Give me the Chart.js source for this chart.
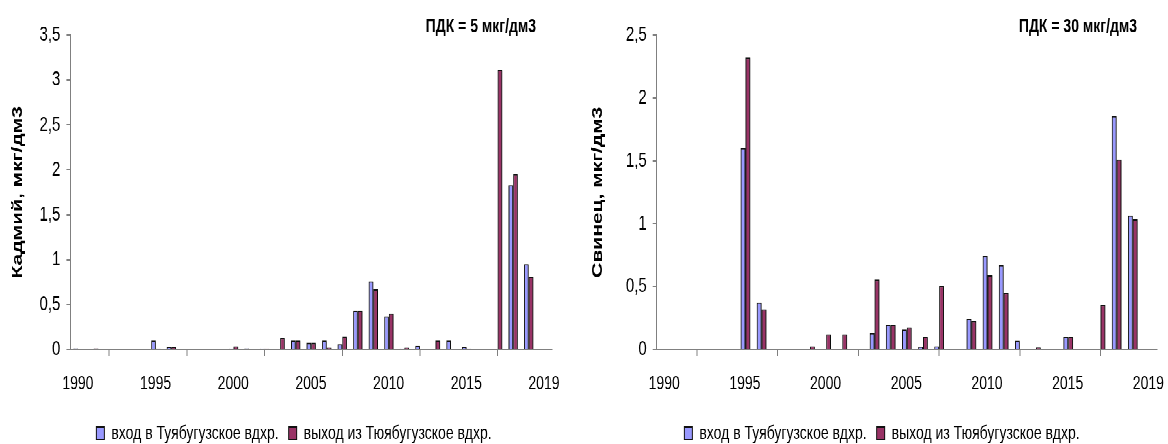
<!DOCTYPE html>
<html lang="ru">
<head>
<meta charset="utf-8">
<title>Кадмий и свинец</title>
<script src="https://cdn.jsdelivr.net/npm/chart.js@4.4.1/dist/chart.umd.min.js"></script>
<style>
    html, body { margin: 0; padding: 0; background: #fff; }
    #page { width: 1168px; height: 444px; overflow: hidden; }
    /* the source picture is stretched vertically, so both charts are drawn
       shorter and then scaled up the same way */
    #stretch {
        display: flex;
        width: 1168px;
        height: 317px;
        transform: scaleY(1.4006);
        transform-origin: 0 0;
    }
    #stretch canvas { display: block; }
</style>
</head>
<body>
<div id="page">
    <div id="stretch">
        <canvas id="cadmium-chart" width="584" height="317"></canvas>
        <canvas id="lead-chart" width="584" height="317"></canvas>
    </div>
</div>
<script>
// Sampling years
const years = [
    1990, 1991, 1992, 1993, 1994, 1995, 1996, 1997, 1998, 1999,
    2000, 2001, 2002, 2003, 2004, 2005, 2006, 2007, 2008, 2009,
    2010, 2011, 2012, 2013, 2014, 2015, 2016, 2017, 2018, 2019
];

// Cadmium, mcg/dm3
const cadmiumIn = [
    0.012, null, null, null, null, 0.10, 0.025, null, null, null,
    0.01, 0.012, 0.01, null, 0.10, 0.075, 0.10, 0.06, 0.43, 0.76,
    0.37, 0.01, 0.04, 0.005, 0.10, 0.025, null, null, 1.83, 0.95
];
const cadmiumOut = [
    null, 0.012, null, null, null, 0.01, 0.025, null, null, null,
    0.035, null, 0.01, 0.13, 0.10, 0.075, 0.02, 0.145, 0.43, 0.67,
    0.40, 0.02, null, 0.10, null, 0.01, null, 3.11, 1.95, 0.81
];

// Lead, mcg/dm3
const leadIn = [
    null, null, null, null, null, 1.60, 0.375, null, null, null,
    null, null, null, 0.13, 0.195, 0.16, 0.02, 0.025, 0.005, 0.245,
    0.745, 0.67, 0.07, 0.005, null, 0.10, null, null, 1.855, 1.065
];
const leadOut = [
    null, null, null, null, null, 2.32, 0.32, null, null, 0.025,
    0.12, 0.12, null, 0.555, 0.195, 0.175, 0.10, 0.505, 0.005, 0.225,
    0.59, 0.45, 0.005, 0.015, null, 0.10, null, 0.355, 1.51, 1.035
];

// x axis ticks (the last tick carries the label 2019 in the source)
const xTickValues = [1990, 1995, 2000, 2005, 2010, 2015, 2020];
const xTickLabels = ['1990', '1995', '2000', '2005', '2010', '2015', '2019'];

const seriesNames = ['вход в Туябугузское вдхр.', 'выход из Тюябугузское вдхр.'];

const PLOT_TOP = 25;
const PLOT_BOTTOM = 249.5;
const PAD_BOTTOM = -9.5;
const FONT = '"Liberation Sans", Arial, sans-serif';

// small text in the upper right corner of the plot
const pdkNote = {
    id: 'pdkNote',
    afterDraw(chart, args, opts) {
        const { ctx, chartArea } = chart;
        ctx.save();
        ctx.font = 'bold 14px ' + FONT;
        ctx.fillStyle = '#000';
        ctx.textAlign = 'right';
        ctx.textBaseline = 'middle';
        ctx.fillText(opts.text, chartArea.right - opts.inset, opts.y);
        ctx.restore();
    }
};

// light drop shadow under the bars, like the office chart
const barShadow = {
    id: 'barShadow',
    beforeDatasetsDraw(chart) {
        const ctx = chart.ctx;
        ctx.save();
        ctx.shadowColor = 'rgba(0, 0, 0, 0.3)';
        ctx.shadowBlur = 0;
        ctx.shadowOffsetX = 3;
        ctx.shadowOffsetY = 1;
    },
    afterDatasetsDraw(chart) {
        chart.ctx.restore();
    }
};

// legend is centred on the whole canvas, not on the padded box
const legendCentre = {
    id: 'legendCentre',
    afterLayout(chart, args, opts) {
        const lg = chart.legend;
        lg.left = opts.shift;
        lg.right = chart.width + opts.shift;
    }
};

function toPoints(values) {
    // bars sit in the middle of their year
    return years.map((y, i) => ({ x: y + 0.5, y: values[i] }));
}

function makeChart(canvasId, cfg) {
    const ctx = document.getElementById(canvasId).getContext('2d');
    return new Chart(ctx, {
        type: 'bar',
        data: {
            datasets: [
                {
                    label: seriesNames[0],
                    data: toPoints(cfg.inlet),
                    backgroundColor: '#9999ff',
                    borderColor: '#111111',
                    borderWidth: 1
                },
                {
                    label: seriesNames[1],
                    data: toPoints(cfg.outlet),
                    backgroundColor: '#993366',
                    borderColor: '#111111',
                    borderWidth: 1
                }
            ]
        },
        plugins: [pdkNote, barShadow, legendCentre],
        options: {
            responsive: false,
            animation: false,
            devicePixelRatio: 2,
            categoryPercentage: 0.6,
            barPercentage: 1.0,
            layout: {
                padding: { top: PLOT_TOP, right: 584 - cfg.plotRight, bottom: PAD_BOTTOM, left: 0 }
            },
            scales: {
                x: {
                    type: 'linear',
                    min: 1990,
                    max: 2021,
                    offset: false,
                    afterBuildTicks: scale => {
                        scale.ticks = xTickValues.map(v => ({ value: v }));
                    },
                    afterFit: scale => {
                        const chart = scale.chart;
                        scale.height = chart.height - PAD_BOTTOM - chart.legend.height - PLOT_BOTTOM;
                    },
                    ticks: {
                        autoSkip: false,
                        maxRotation: 0,
                        padding: 11,
                        labelOffset: 7.5,
                        color: '#000',
                        font: { family: FONT, size: 14 },
                        callback: (value, index) => xTickLabels[index]
                    },
                    grid: { drawOnChartArea: false, drawTicks: true, tickLength: 5, color: '#808080' },
                    border: { color: '#808080' }
                },
                y: {
                    min: 0,
                    max: cfg.yMax,
                    afterFit: scale => { scale.width = cfg.plotLeft; },
                    ticks: {
                        stepSize: 0.5,
                        padding: 6,
                        color: '#000',
                        font: { family: FONT, size: 15 },
                        callback: value => String(value).replace('.', ',')
                    },
                    grid: { drawOnChartArea: false, drawTicks: true, tickLength: 4, color: '#808080' },
                    border: { color: '#808080' },
                    title: {
                        display: true,
                        text: cfg.yTitle,
                        color: '#000',
                        padding: { top: cfg.titleShift, bottom: 0 },
                        font: { family: FONT, size: 15, weight: 'bold' }
                    }
                }
            },
            plugins: {
                legend: {
                    position: 'bottom',
                    labels: {
                        boxWidth: 8,
                        boxHeight: 9,
                        padding: 10,
                        color: '#000',
                        font: { family: FONT, size: 14 }
                    }
                },
                tooltip: { enabled: false },
                pdkNote: { text: cfg.note, inset: cfg.noteInset, y: 19.3 },
                legendCentre: { shift: cfg.legendShift }
            }
        }
    });
}

document.addEventListener('DOMContentLoaded', () => {
    makeChart('cadmium-chart', {
        inlet: cadmiumIn,
        outlet: cadmiumOut,
        yMax: 3.5,
        yTitle: 'Кадмий, мкг/дм3',
        note: 'ПДК = 5 мкг/дм3',
        plotLeft: 70.4,
        plotRight: 552,
        titleShift: 9,
        noteInset: 16,
        legendShift: 2
    });

    makeChart('lead-chart', {
        inlet: leadIn,
        outlet: leadOut,
        yMax: 2.5,
        yTitle: 'Свинец, мкг/дм3',
        note: 'ПДК = 30 мкг/дм3',
        plotLeft: 72.7,
        plotRight: 573,
        titleShift: 5,
        noteInset: 20,
        legendShift: 6
    });
});
</script>
</body>
</html>
